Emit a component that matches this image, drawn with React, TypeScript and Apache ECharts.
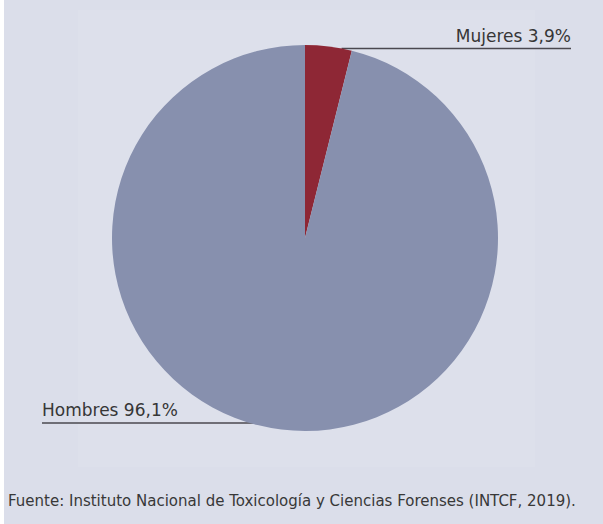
import React, { useEffect, useRef } from "react";
import * as echarts from "echarts";

const categories = ["Mujeres", "Hombres"];
const values = [3.9, 96.1];
const sliceColors = ["#8e2735", "#8790ae"];
const sourceText = "Fuente: Instituto Nacional de Toxicología y Ciencias Forenses (INTCF, 2019).";

const W = 603;
const H = 524;
const CX = 305;
const CY = 238;
const R = 193;
const FONT = "DejaVu Sans";

export default function App() {
  const ref = useRef<HTMLDivElement>(null);
  useEffect(() => {
    if (!ref.current) return;
    const chart = echarts.init(ref.current, undefined, { renderer: "svg" });
    const edgeX = (y: number, side: number) => CX + side * Math.sqrt(Math.max(0, R * R - (y - CY) * (y - CY)));
    const option: any = {
      animation: false,
      backgroundColor: "#dbdeea",
      graphic: [
        { type: "rect", left: 0, top: 0, shape: { width: 4, height: H }, style: { fill: "#ffffff" }, silent: true },
        { type: "rect", left: 78, top: 10, shape: { width: 457, height: 457 }, style: { fill: "#dde0eb" }, silent: true, z: -1 },
        {
          type: "text",
          left: 8,
          top: 493,
          style: { text: sourceText, fill: "#383838", font: `15px "${FONT}"` },
        },
      ],
      series: [
        {
          type: "pie",
          center: [CX, CY],
          radius: [0, R],
          startAngle: 90,
          clockwise: true,
          avoidLabelOverlap: false,
          data: categories.map((c, i) => ({ name: c, value: values[i], itemStyle: { color: sliceColors[i] } })),
          itemStyle: { borderWidth: 0 },
          label: {
            show: true,
            position: "outside",
            color: "#363636",
            fontFamily: FONT,
            fontSize: 17,
            formatter: (p: any) => `${p.name} ${p.value.toFixed(1).replace(".", ",")}%`,
          },
          labelLine: { show: true, length: 5, length2: 5, lineStyle: { color: "#4a484f", width: 1.6 } },
          labelLayout: (params: any) => {
            if (params.dataIndex === 0) {
              const y = 48.5;
              const x0 = edgeX(y, 1);
              const x1 = 571;
              return {
                x: x1,
                y: y - 4,
                align: "right",
                verticalAlign: "bottom",
                labelLinePoints: [[x0, y], [x0, y], [x1, y]],
              };
            }
            const y = 423;
            const x0 = edgeX(y, -1) + 7;
            const x1 = 42;
            return {
              x: x1,
              y: y - 5,
              align: "left",
              verticalAlign: "bottom",
              labelLinePoints: [[x0, y], [x0, y], [x1, y]],
            };
          },
        },
      ],
    };
    chart.setOption(option);
    return () => chart.dispose();
  }, []);
  return <div ref={ref} style={{ position: "fixed", left: 0, top: 0, width: W, height: H }} />;
}
